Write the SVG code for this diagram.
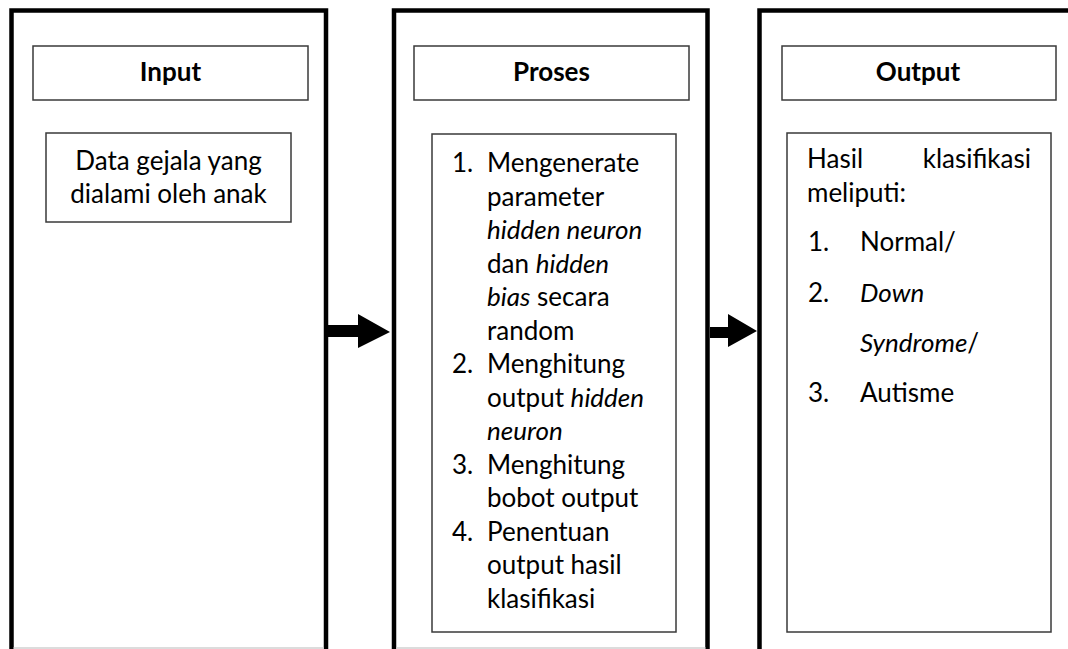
<svg xmlns="http://www.w3.org/2000/svg" width="1068" height="649" viewBox="0 0 1068 649">
<style>
.outer{fill:none;stroke:#000;stroke-width:4.5}
.box{fill:#fff;stroke:#3a3a3a;stroke-width:1.5}
.t{font-family:Lato,"Liberation Sans",sans-serif;font-size:26px;fill:#000}
.h{font-weight:bold;text-anchor:middle}
.c{text-anchor:middle}
.i{font-style:italic}
.edge{stroke:#d0d0d0;stroke-width:1.5}
</style>
<rect width="1068" height="649" fill="#fff"/>
<g id="input">
<path class="outer" d="M11.5 649 V10.5 H326 V649"/>
<line class="edge" x1="13.5" y1="648" x2="324" y2="648"/>
<rect class="box" x="33" y="46" width="275" height="54"/>
<text class="t h" x="170.5" y="81">Input</text>
<rect class="box" x="46" y="133" width="245" height="89"/>
<text class="t c" x="168.5" y="170">Data gejala yang</text>
<text class="t c" x="168.5" y="203">dialami oleh anak</text>
</g>
<g id="proses">
<path class="outer" d="M394 649 V10.5 H707.5 V649"/>
<line class="edge" x1="396" y1="648" x2="705.5" y2="648"/>
<rect class="box" x="414" y="46" width="275" height="54"/>
<text class="t h" x="551.5" y="81">Proses</text>
<rect class="box" x="432" y="134" width="244" height="498"/>
<g class="t">
<text x="452" y="172">1.</text>
<text x="487" y="172">Mengenerate</text>
<text x="487" y="205.5">parameter</text>
<text x="487" y="239" class="i">hidden neuron</text>
<text x="487" y="272.5">dan <tspan class="i">hidden</tspan></text>
<text x="487" y="306"><tspan class="i">bias</tspan> secara</text>
<text x="487" y="339.5">random</text>
<text x="452" y="373">2.</text>
<text x="487" y="373">Menghitung</text>
<text x="487" y="406.5">output <tspan class="i">hidden</tspan></text>
<text x="487" y="440" class="i">neuron</text>
<text x="452" y="473.5">3.</text>
<text x="487" y="473.5">Menghitung</text>
<text x="487" y="507">bobot output</text>
<text x="452" y="540.5">4.</text>
<text x="487" y="540.5">Penentuan</text>
<text x="487" y="574">output hasil</text>
<text x="487" y="607.5">klasifikasi</text>
</g>
</g>
<g id="output">
<path class="outer" d="M759.5 649 V10.5 H1068"/>
<rect class="box" x="782" y="46" width="274" height="54"/>
<text class="t h" x="918" y="81">Output</text>
<rect class="box" x="787" y="133" width="264" height="499"/>
<g class="t">
<text x="807" y="168">Hasil</text>
<text x="1031" y="168" text-anchor="end">klasifikasi</text>
<text x="807" y="202">meliputi:</text>
<text x="808" y="251">1.</text>
<text x="860" y="251">Normal/</text>
<text x="808" y="302">2.</text>
<text x="860" y="302" class="i">Down</text>
<text x="860" y="352"><tspan class="i">Syndrome</tspan>/</text>
<text x="808" y="402">3.</text>
<text x="860" y="402">Autisme</text>
</g>
</g>
<g id="connectors" fill="#000">
<path d="M328 325 H358 V314 L390 332 L358 348 V337 H328 Z"/>
<path d="M710 327 H728 V314 L757 331 L728 347 V338 H710 Z"/>
</g>
</svg>
